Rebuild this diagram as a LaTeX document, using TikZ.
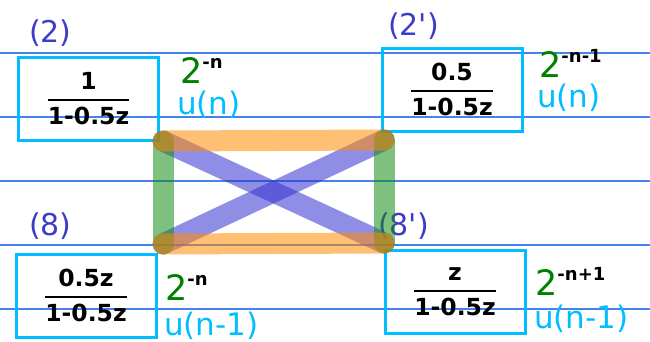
\documentclass[tikz,border=0pt]{standalone}
\usepackage{amsmath}
\usepackage{fontspec}
\setmainfont{DejaVu Sans}
\newfontfamily\tagfont[Ligatures=TeXOff]{DejaVu Sans}
\definecolor{boxc}{RGB}{0,190,255}
\definecolor{labc}{RGB}{60,60,200}
\definecolor{grn}{RGB}{0,128,0}
\definecolor{linec}{RGB}{70,130,235}
\definecolor{orc}{RGB}{255,140,0}
\definecolor{grc}{RGB}{20,140,20}
\definecolor{blc}{RGB}{50,50,210}
\newcommand{\myfr}[2]{$\genfrac{}{}{2pt}{0}{\hbox{#1}}{\hbox{#2}}$}
\tikzset{
  tfbox/.style={draw=boxc, line width=3pt, minimum width=140pt, minimum height=83pt, inner sep=0pt,
    font=\fontsize{23.5}{25}\selectfont\bfseries},
  tag/.style={anchor=base west, inner sep=0pt, text=labc, font=\tagfont\fontsize{30}{32}\selectfont},
  pw/.style={anchor=base west, inner sep=0pt, font=\fontsize{35}{36}\selectfont},
  sig/.style={anchor=base west, inner sep=0pt, text=boxc, font=\fontsize{31}{32}\selectfont},
  rule/.style={draw=linec, line width=1.1pt},
  hl/.style={line width=21pt, line cap=round, opacity=0.55},
}
\newcommand{\pwr}[1]{\textcolor{grn}{2}\raisebox{15pt}{\fontsize{18}{18}\selectfont\bfseries #1}}
\begin{document}
\begin{tikzpicture}[x=1pt,y=-1pt]
\useasboundingbox (0,0) rectangle (650,341);
% ruled lines
\foreach \yy/\nm in {53/a,117/b,181/c,245/d,309/e}{
  \coordinate (L\nm) at (0,\yy);
  \coordinate (R\nm) at (650,\yy);
  \draw[rule] (L\nm) -- (R\nm);
}
% boxes
\node[tfbox] (b2) at (88.5,98.5) {\myfr{1}{1-0.5z}};
\node[tfbox] (b2p) at (452,89.5) {\myfr{0.5}{1-0.5z}};
\node[tfbox] (b8) at (86,295.5) {\myfr{0.5z}{1-0.5z}};
\node[tfbox] (b8p) at (455,291.5) {\myfr{z}{1-0.5z}};
% tags
\node[tag] (t2) at (29,42) {(2)};
\node[tag] (t2p) at (388,35) {(2')};
\node[tag] (t8) at (29,235) {(8)};
\node[tag] (t8p) at (378,235) {(8')};
% powers
\node[pw] (p2) at (180,83) {\pwr{-n}};
\node[pw] (p2p) at (539,77) {\pwr{-n-1}};
\node[pw] (p8) at (165,300) {\pwr{-n}};
\node[pw] (p8p) at (535,295) {\pwr{-n+1}};
% steps
\node[sig] (s2) at (177,114) {u(n)};
\node[sig] (s2p) at (537,107) {u(n)};
\node[sig] (s8) at (164,335) {u(n-1)};
\node[sig] (s8p) at (534,328) {u(n-1)};
% highlight strokes
\coordinate (TL) at (163,141);
\coordinate (TR) at (384,140);
\coordinate (BL) at (163,244);
\coordinate (BR) at (384,243);
\draw[hl, draw=blc] (TL) -- (BR);
\draw[hl, draw=blc] (TR) -- (BL);
\draw[hl, draw=grc] (TL) -- (BL);
\draw[hl, draw=grc] (TR) -- (BR);
\draw[hl, draw=orc] (TL) -- (TR);
\draw[hl, draw=orc] (BL) -- (BR);
\end{tikzpicture}
\end{document}
